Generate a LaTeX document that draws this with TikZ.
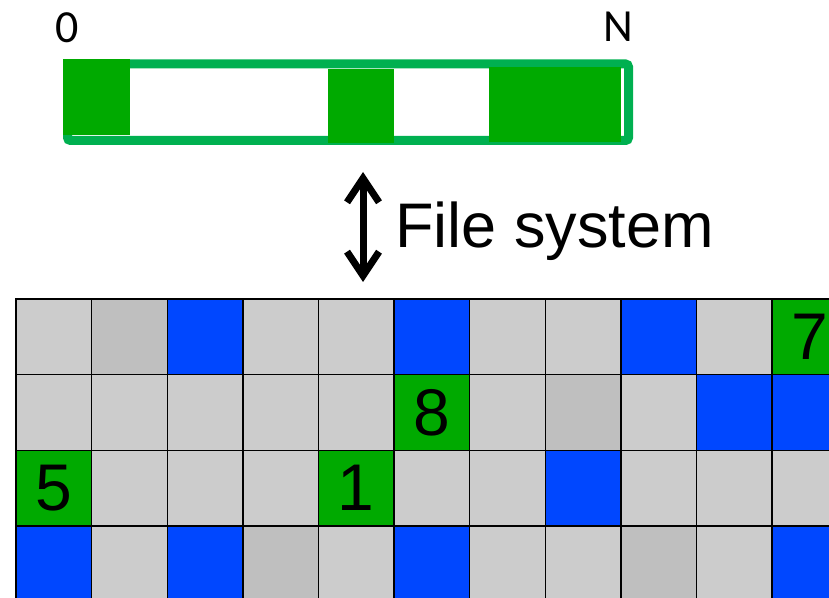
\documentclass[tikz,border=0pt]{standalone}
\usepackage{fontspec}
\setmainfont{Liberation Sans}
\newfontfamily\labelfont{Carlito}
\usetikzlibrary{arrows.meta, positioning}

\definecolor{cellL}{HTML}{CCCCCC}
\definecolor{cellD}{HTML}{BFBFBF}
\definecolor{cellB}{HTML}{0047FF}
\definecolor{cellG}{HTML}{00AA00}
\definecolor{barline}{HTML}{00B050}

\begin{document}
\begin{tikzpicture}[x=0.5pt, y=-0.5pt,
    cell/.style={draw=black, line width=0.7pt, minimum size=37.8pt, inner sep=0pt, outer sep=0pt},
    digit/.style={font=\fontsize{33}{33}\selectfont},
    block/.style={fill=cellG},
    endlabel/.style={font=\labelfont\fontsize{23}{23}\selectfont}]
  \useasboundingbox (0,0) rectangle (829,598);
  \clip (0,0) rectangle (829,598);

  % storage bar
  \draw[barline, line width=4.5pt, rounded corners=1.5pt] (67.5,64) rectangle (628.5,140.5);
  \fill[block] (63,59) rectangle (130,135);
  \fill[block] (328,69) rectangle (394,143);
  \fill[block] (489,67) rectangle (621,142);
  \node[endlabel] (zero) at (67.5,27.5) {0};
  \node[endlabel] (last) at (618,27) {N};

  % arrow
  \coordinate (up) at (363,172);
  \coordinate (down) at (363,282);
  \draw[{Straight Barb[length=12pt,width=16pt]}-{Straight Barb[length=12pt,width=16pt]}, line width=3.5pt] (up) -- (down);
  \node[anchor=base west, inner sep=0pt, font=\fontsize{31.5}{31.5}\selectfont] (fs) at (395,248) {File system};

  % disk blocks
  \foreach \cols [count=\r from 0] in {{L,D,B,L,L,B,L,L,B,L,G},{L,L,L,L,L,G,L,D,L,B,B},{G,L,L,L,G,L,L,B,L,L,L},{B,L,B,D,L,B,L,L,D,L,B}}
    \foreach \c [count=\i from 0] in \cols
      \node[cell, fill=cell\c] (c-\r-\i) at (53.8+75.6*\i, 336.8+75.6*\r) {};

  \node[digit] (seven) at (c-0-10) {7};
  \node[digit] (eight) at (c-1-5) {8};
  \node[digit] (five) at (c-2-0) {5};
  \node[digit] (one) at (c-2-4) {1};
\end{tikzpicture}
\end{document}
